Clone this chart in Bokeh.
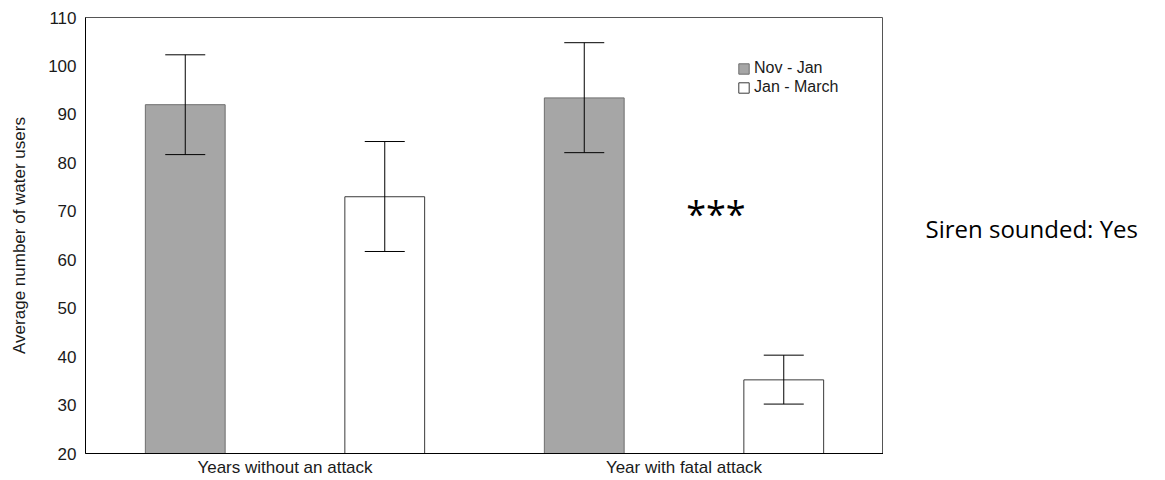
from bokeh.plotting import figure
from bokeh.layouts import row
from bokeh.models import (ColumnDataSource, Range1d, FixedTicker, Whisker, TeeHead,
                          Legend, LegendItem, Label)
from bokeh.embed import file_html
from bokeh.resources import INLINE

# ---- data ----
categories = ["Years without an attack", "Year with fatal attack"]
series = ["Nov - Jan", "Jan - March"]
nov_jan = [92.0, 93.4]
nov_jan_lower = [81.7, 82.1]
nov_jan_upper = [102.3, 104.8]
jan_march = [73.0, 35.2]
jan_march_lower = [61.7, 30.2]
jan_march_upper = [84.4, 40.3]
y_ticks = [20, 30, 40, 50, 60, 70, 80, 90, 100, 110]
significance = "***"
side_note = "Siren sounded: Yes"

FONT = "Liberation Sans"

n = len(categories)
x_nov = [2 * i + 1 for i in range(n)]
x_jan = [2 * i + 2 for i in range(n)]
group_centers = [2 * i + 1.5 for i in range(n)]

src_nov = ColumnDataSource(dict(x=x_nov, top=nov_jan, lower=nov_jan_lower, upper=nov_jan_upper))
src_jan = ColumnDataSource(dict(x=x_jan, top=jan_march, lower=jan_march_lower, upper=jan_march_upper))

p = figure(width=883, height=480, output_backend="svg", toolbar_location=None,
           x_range=Range1d(0.5, 2 * n + 0.5), y_range=Range1d(20, 110),
           min_border_left=85, min_border_right=0, min_border_top=17, min_border_bottom=27)
p.background_fill_color = "white"
p.border_fill_color = "white"
p.outline_line_color = "#555555"
p.outline_line_width = 1
p.xgrid.visible = False
p.ygrid.visible = False

r_nov = p.vbar(x="x", top="top", bottom=20, width=0.4, source=src_nov,
               fill_color="#a6a6a6", line_color="#6e6e6e", line_width=1)
r_jan = p.vbar(x="x", top="top", bottom=20, width=0.4, source=src_jan,
               fill_color="white", line_color="#3a3a3a", line_width=1)

for src in (src_nov, src_jan):
    w = Whisker(base="x", upper="upper", lower="lower", source=src,
                line_color="black", line_width=1, level="overlay",
                upper_head=TeeHead(size=40, line_color="black", line_width=1),
                lower_head=TeeHead(size=40, line_color="black", line_width=1))
    p.add_layout(w)

# axes
p.yaxis.ticker = FixedTicker(ticks=y_ticks)
p.yaxis.axis_label = "Average number of water users"
p.yaxis.axis_label_text_font = FONT
p.yaxis.axis_label_text_font_size = "17px"
p.yaxis.axis_label_text_font_style = "normal"
p.yaxis.axis_label_text_color = "#1a1a1a"
p.yaxis.axis_label_standoff = 16
p.yaxis.major_label_text_font = FONT
p.yaxis.major_label_text_font_size = "17px"
p.yaxis.major_label_text_color = "#1a1a1a"
p.yaxis.major_label_standoff = 9
p.yaxis.major_tick_out = 0
p.yaxis.major_tick_in = 0
p.yaxis.minor_tick_out = 0
p.yaxis.minor_tick_in = 0
p.yaxis.axis_line_color = "black"

p.xaxis.ticker = FixedTicker(ticks=group_centers)
p.xaxis.major_label_overrides = {c: lab for c, lab in zip(group_centers, categories)}
p.xaxis.major_label_text_font = FONT
p.xaxis.major_label_text_font_size = "17px"
p.xaxis.major_label_text_color = "#1a1a1a"
p.xaxis.major_label_standoff = 4
p.xaxis.major_tick_out = 0
p.xaxis.major_tick_in = 0
p.xaxis.minor_tick_out = 0
p.xaxis.minor_tick_in = 0
p.xaxis.axis_line_color = "black"

# legend
legend = Legend(items=[LegendItem(label=series[0], renderers=[r_nov]),
                       LegendItem(label=series[1], renderers=[r_jan])],
                location=(652, 357), orientation="vertical",
                glyph_width=13, glyph_height=13, label_height=17, label_standoff=4,
                spacing=1, padding=0, margin=0,
                label_text_font=FONT, label_text_font_size="16px",
                label_text_color="#1a1a1a",
                border_line_color=None, background_fill_alpha=0)
p.add_layout(legend)

# significance marker
p.add_layout(Label(x=3.66, y=69.5, text=significance, text_font="Open Sans",
                   text_font_size="36px", text_align="center", text_baseline="middle",
                   text_color="black"))

# side note panel
q = figure(width=282, height=480, output_backend="svg", toolbar_location=None,
           x_range=Range1d(0, 282), y_range=Range1d(0, 480),
           min_border=0, outline_line_color=None)
q.axis.visible = False
q.grid.visible = False
q.add_layout(Label(x=42, y=225, x_units="screen", y_units="screen", text=side_note,
                   text_font="Open Sans", text_font_size="24px", text_align="left",
                   text_baseline="middle", text_color="black"))

layout = row(p, q, spacing=0)
open("out.html", "w").write(file_html(layout, INLINE))
